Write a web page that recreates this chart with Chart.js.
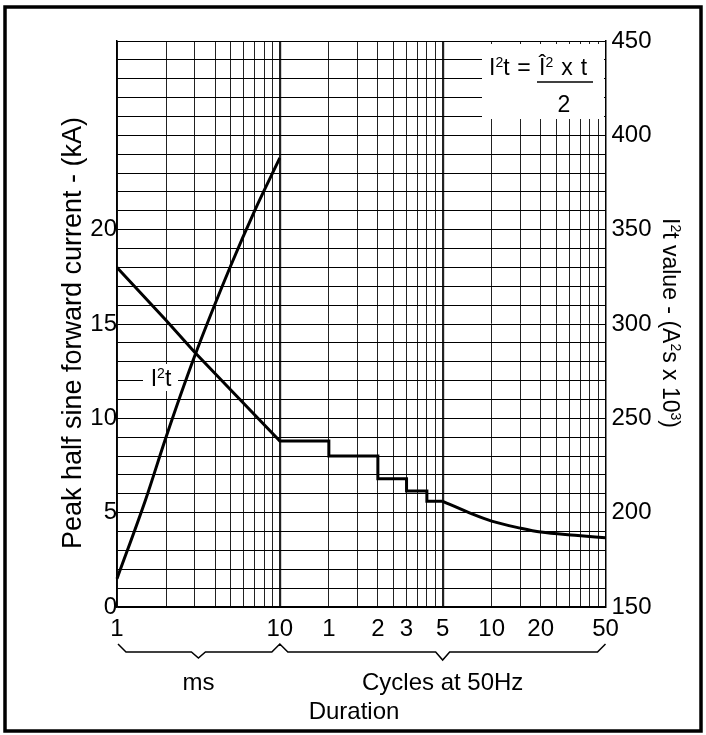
<!DOCTYPE html>
<html lang="en">
<head>
    <meta charset="UTF-8">
    <title>Peak half sine forward current and I2t vs duration</title>
    <script src="https://cdn.jsdelivr.net/npm/chart.js"></script>
    <style>
      body { margin: 0; background: #fff; }
    </style>
</head>
<body>
    <canvas id="surgeChart" width="706" height="735"></canvas>

    <script>
      // Duration axis (ms, log) - grid lines and the labels printed under them
      const gridTimes = [1, 2, 3, 4, 5, 6, 7, 8, 9, 10, 20, 30, 40, 50, 60, 70, 80, 90, 100, 200, 300, 400, 500, 600, 700, 800, 900, 1000];
      const labelTimes = [1, 10, 20, 40, 60, 100, 200, 400, 1000];
      const labelTexts = ['1', '10', '1', '2', '3', '5', '10', '20', '50']; // ms, then cycles at 50Hz

      // Peak current (kA) - straight part and steps
      const currentTimes = [1, 2, 3, 5, 10, 20, 20, 40, 40, 60, 60, 80, 80, 100];
      const currentValues = [18, 15.2, 13.5, 11.5, 8.8, 8.8, 8.0, 8.0, 6.8, 6.8, 6.15, 6.15, 5.6, 5.6];
      // Peak current (kA) - smooth tail from 5 cycles on
      const tailTimes = [100, 150, 200, 300, 400, 650, 1000];
      const tailValues = [5.6, 4.95, 4.55, 4.18, 3.97, 3.8, 3.67];

      // I2t (A2s x 10^3)
      const i2tTimes = [1, 1.5, 2, 3, 5, 7, 10];
      const i2tValues = [165, 207, 240, 283, 331, 360, 388];

      const leftLabels = [0, 5, 10, 15, 20];
      const rightLabels = [150, 200, 250, 300, 350, 400, 450];

      const FONT = '"Liberation Sans", Arial, sans-serif';

      function pts(xs, ys) {
        return xs.map((x, i) => ({ x: x, y: ys[i] }));
      }

      // text with superscripts, parts = [[text, isSup], ...]
      function richText(ctx, parts, x, y, size, align) {
        const big = size + 'px ' + FONT;
        const small = Math.round(size * 0.62) + 'px ' + FONT;
        let w = 0;
        parts.forEach(p => { ctx.font = p[1] ? small : big; w += ctx.measureText(p[0]).width; });
        let cx = align === 'center' ? x - w / 2 : x;
        ctx.textAlign = 'left';
        ctx.textBaseline = 'alphabetic';
        parts.forEach(p => {
          ctx.font = p[1] ? small : big;
          ctx.fillText(p[0], cx, p[1] ? y - size * 0.36 : y);
          cx += ctx.measureText(p[0]).width;
        });
      }

      const decor = {
        id: 'decor',
        beforeDatasetsDraw(chart) {
          const ctx = chart.ctx;
          ctx.save();
          ctx.fillStyle = '#fff';
          // box behind the formula and behind the I2t label
          ctx.fillRect(482, 44, 122, 75);
          ctx.fillRect(143, 364, 35, 27);
          ctx.restore();
        },
        afterDraw(chart) {
          const ctx = chart.ctx;
          const xs = chart.scales.x;
          ctx.save();
          ctx.fillStyle = '#000';
          ctx.strokeStyle = '#000';

          // formula
          richText(ctx, [['I', false], ['2', true], ['t', false]], 489, 75, 23, 'left');
          ctx.font = '23px ' + FONT;
          ctx.textAlign = 'center';
          ctx.fillText('=', 524, 75);
          richText(ctx, [['Î', false], ['2', true]], 539, 75, 23, 'left');
          ctx.textAlign = 'center';
          ctx.font = '23px ' + FONT;
          ctx.fillText('x', 567, 75);
          ctx.fillText('t', 584, 75);
          ctx.fillText('2', 564, 112);
          ctx.lineWidth = 1.5;
          ctx.beginPath();
          ctx.moveTo(537, 82);
          ctx.lineTo(593, 82);
          ctx.stroke();

          // curve label
          richText(ctx, [['I', false], ['2', true], ['t', false]], 161, 386, 23, 'center');

          // left title
          ctx.save();
          ctx.translate(74, 333);
          ctx.rotate(-Math.PI / 2);
          ctx.font = '27px ' + FONT;
          ctx.textAlign = 'center';
          ctx.textBaseline = 'middle';
          ctx.fillText('Peak half sine forward current - (kA)', 0, 0);
          ctx.restore();

          // right title
          ctx.save();
          ctx.translate(671, 323);
          ctx.rotate(Math.PI / 2);
          richText(ctx, [['I', false], ['2', true], ['t value - (A', false], ['2', true], ['s x 10', false], ['3', true], [')', false]], 0, 8, 23, 'center');
          ctx.restore();

          // braces under the duration axis
          const x1 = xs.getPixelForValue(1);
          const x10 = xs.getPixelForValue(10);
          const xMid = xs.getPixelForValue(Math.sqrt(10));
          const x100 = xs.getPixelForValue(100);
          const x1000 = xs.getPixelForValue(1000);
          const yTop = 644, yLine = 652;
          ctx.lineWidth = 1.5;
          ctx.beginPath();
          ctx.moveTo(x1 + 1, yTop);
          ctx.lineTo(x1 + 9, yLine);
          ctx.lineTo(xMid - 7, yLine);
          ctx.lineTo(xMid, yLine + 6);
          ctx.lineTo(xMid + 7, yLine);
          ctx.lineTo(x10 - 8, yLine);
          ctx.lineTo(x10, yTop);
          ctx.lineTo(x10 + 8, yLine);
          ctx.lineTo(x100 - 7, yLine);
          ctx.lineTo(x100, yLine + 8);
          ctx.lineTo(x100 + 7, yLine);
          ctx.lineTo(x1000 - 8, yLine);
          ctx.lineTo(x1000, yTop);
          ctx.stroke();

          ctx.font = '24px ' + FONT;
          ctx.textAlign = 'center';
          ctx.textBaseline = 'middle';
          ctx.fillText('ms', xMid, 683);
          ctx.fillText('Cycles at 50Hz', x100, 683);
          ctx.fillText('Duration', 354, 712);

          // outer frame
          ctx.lineWidth = 3.5;
          ctx.strokeRect(5, 7, 696, 724);
          ctx.restore();
        }
      };

      const ctx = document.getElementById('surgeChart');

      new Chart(ctx, {
        type: 'line',
        data: {
          datasets: [
            {
              label: 'Peak current',
              data: pts(currentTimes, currentValues),
              yAxisID: 'y',
              borderColor: '#000',
              borderWidth: 3,
              pointRadius: 0,
              tension: 0,
              clip: false
            },
            {
              label: 'Peak current tail',
              data: pts(tailTimes, tailValues),
              yAxisID: 'y',
              borderColor: '#000',
              borderWidth: 3,
              pointRadius: 0,
              cubicInterpolationMode: 'monotone',
              clip: false
            },
            {
              label: 'I2t',
              data: pts(i2tTimes, i2tValues),
              yAxisID: 'y2',
              borderColor: '#000',
              borderWidth: 3,
              pointRadius: 0,
              cubicInterpolationMode: 'monotone',
              clip: false
            }
          ]
        },
        options: {
          responsive: false,
          animation: false,
          layout: { padding: { top: 41, left: 0, right: 0, bottom: 0 } },
          plugins: {
            legend: { display: false },
            tooltip: { enabled: false }
          },
          scales: {
            x: {
              type: 'logarithmic',
              min: 1,
              max: 1000,
              afterFit: (s) => { s.height = 128; },
              afterBuildTicks: (s) => { s.ticks = gridTimes.map(v => ({ value: v })); },
              grid: {
                drawTicks: false,
                color: '#222',
                lineWidth: (c) => (c.tick && (c.tick.value === 10 || c.tick.value === 100)) ? 2.2 : 1
              },
              border: { color: '#000', width: 1.5 },
              ticks: {
                autoSkip: false,
                maxRotation: 0,
                minRotation: 0,
                padding: 8,
                color: '#000',
                font: { family: FONT, size: 24 },
                callback: (v) => {
                  const i = labelTimes.indexOf(v);
                  return i >= 0 ? labelTexts[i] : '';
                }
              }
            },
            y: {
              position: 'left',
              min: 0,
              max: 30,
              afterFit: (s) => { s.width = 117; },
              grid: { drawTicks: false, color: '#000', lineWidth: 1 },
              border: { color: '#000', width: 1.5 },
              ticks: {
                stepSize: 1,
                autoSkip: false,
                padding: 0,
                color: '#000',
                font: { family: FONT, size: 24 },
                callback: (v) => leftLabels.includes(v) ? String(v) : ''
              }
            },
            y2: {
              position: 'right',
              min: 150,
              max: 450,
              afterFit: (s) => { s.width = 100.5; },
              grid: { display: false, drawTicks: false },
              border: { color: '#000', width: 1.5 },
              ticks: {
                stepSize: 10,
                autoSkip: false,
                padding: 6,
                color: '#000',
                font: { family: FONT, size: 24 },
                callback: (v) => rightLabels.includes(v) ? String(v) : ''
              }
            }
          }
        },
        plugins: [decor]
      });
    </script>
</body>
</html>
